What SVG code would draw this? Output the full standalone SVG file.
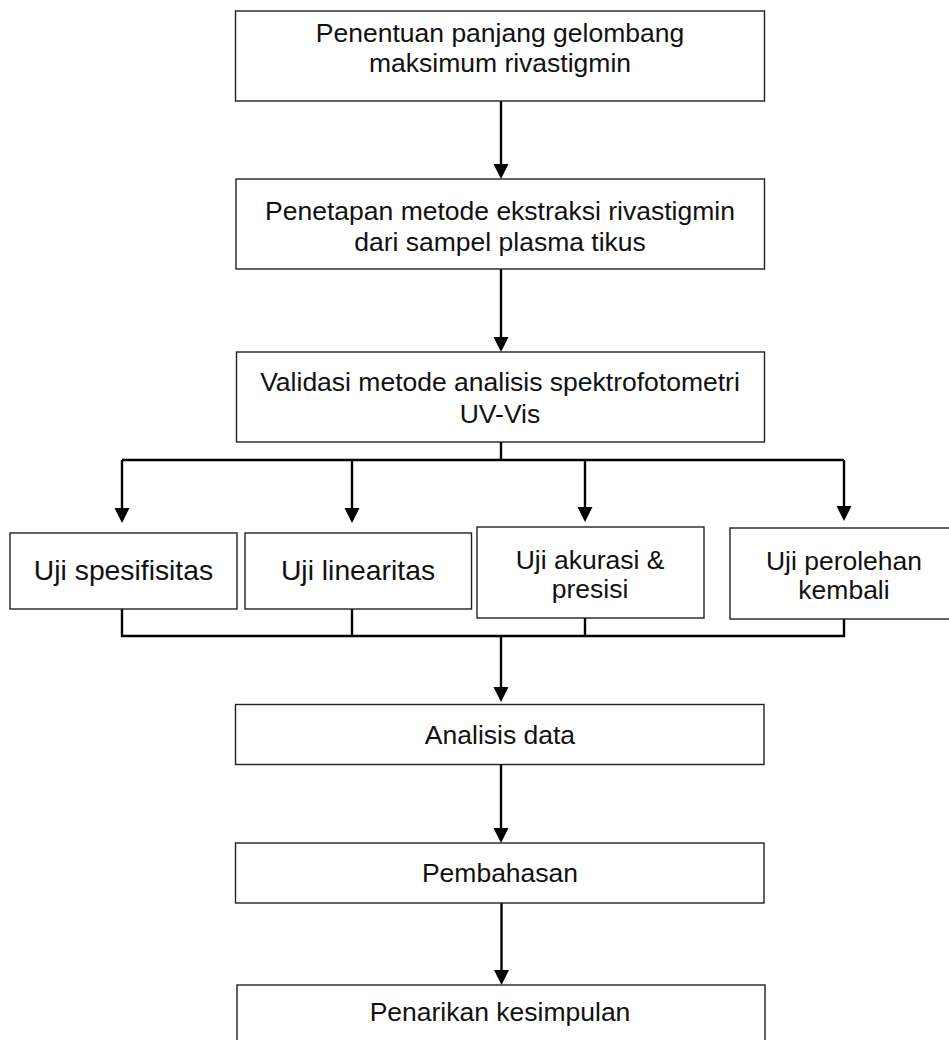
<svg xmlns="http://www.w3.org/2000/svg" width="949" height="1040" viewBox="0 0 949 1040">
<style>
.box{fill:#fff;stroke:#222;stroke-width:1.4}
.t{font-family:"Liberation Sans",Arial,sans-serif;font-size:26.5px;fill:#111;text-anchor:middle}
.tb{font-size:28.3px}
.c{fill:none;stroke:#000;stroke-width:2.4}
</style>
<defs>
<marker id="ah" markerUnits="userSpaceOnUse" markerWidth="16" markerHeight="16" refX="0" refY="7.5" orient="auto">
<path d="M0,0 L15,7.5 L0,15 z" fill="#000"/>
</marker>
</defs>
<rect width="949" height="1040" fill="#fff"/>
<g id="connectors">
<path class="c" d="M501,101 V164" marker-end="url(#ah)"/>
<path class="c" d="M501,269 V337" marker-end="url(#ah)"/>
<path class="c" d="M501,442 V460"/>
<path class="c" d="M122,460 H844"/>
<path class="c" d="M122,460 V508" marker-end="url(#ah)"/>
<path class="c" d="M352,460 V508" marker-end="url(#ah)"/>
<path class="c" d="M585,460 V507" marker-end="url(#ah)"/>
<path class="c" d="M844,460 V506" marker-end="url(#ah)"/>
<path class="c" d="M122,609 V636 H844 V619"/>
<path class="c" d="M352,609 V636"/>
<path class="c" d="M585,618 V636"/>
<path class="c" d="M501,636 V687" marker-end="url(#ah)"/>
<path class="c" d="M501,765 V828" marker-end="url(#ah)"/>
<path class="c" d="M501.5,903 V970" marker-end="url(#ah)"/>
</g>
<g id="n1">
<rect class="box" x="235.5" y="11" width="529" height="90"/>
<text class="t" x="500" y="42">Penentuan panjang gelombang</text>
<text class="t" x="500" y="72">maksimum rivastigmin</text>
</g>
<g id="n2">
<rect class="box" x="236" y="179" width="528.5" height="90"/>
<text class="t" x="500" y="220">Penetapan metode ekstraksi rivastigmin</text>
<text class="t" x="500" y="250.5">dari sampel plasma tikus</text>
</g>
<g id="n3">
<rect class="box" x="236.5" y="352" width="528" height="90"/>
<text class="t" x="500" y="391">Validasi metode analisis spektrofotometri</text>
<text class="t" x="500" y="422.5">UV-Vis</text>
</g>
<g id="n4">
<rect class="box" x="10" y="533" width="227" height="76"/>
<text class="t tb" x="123.5" y="580">Uji spesifisitas</text>
</g>
<g id="n5">
<rect class="box" x="245" y="533" width="226.5" height="76"/>
<text class="t tb" x="358" y="580">Uji linearitas</text>
</g>
<g id="n6">
<rect class="box" x="477" y="527" width="227" height="91"/>
<text class="t" x="590" y="569">Uji akurasi &amp;</text>
<text class="t" x="590" y="598">presisi</text>
</g>
<g id="n7">
<rect class="box" x="730" y="528" width="222" height="91"/>
<text class="t" x="844" y="569.5">Uji perolehan</text>
<text class="t" x="844" y="598.5">kembali</text>
</g>
<g id="n8">
<rect class="box" x="235.5" y="704.5" width="528.5" height="60"/>
<text class="t" x="500" y="743.5">Analisis data</text>
</g>
<g id="n9">
<rect class="box" x="235.5" y="843" width="528.5" height="60"/>
<text class="t" x="500" y="881.5">Pembahasan</text>
</g>
<g id="n10">
<rect class="box" x="237" y="985" width="528" height="70"/>
<text class="t" x="500" y="1021">Penarikan kesimpulan</text>
</g>
</svg>
